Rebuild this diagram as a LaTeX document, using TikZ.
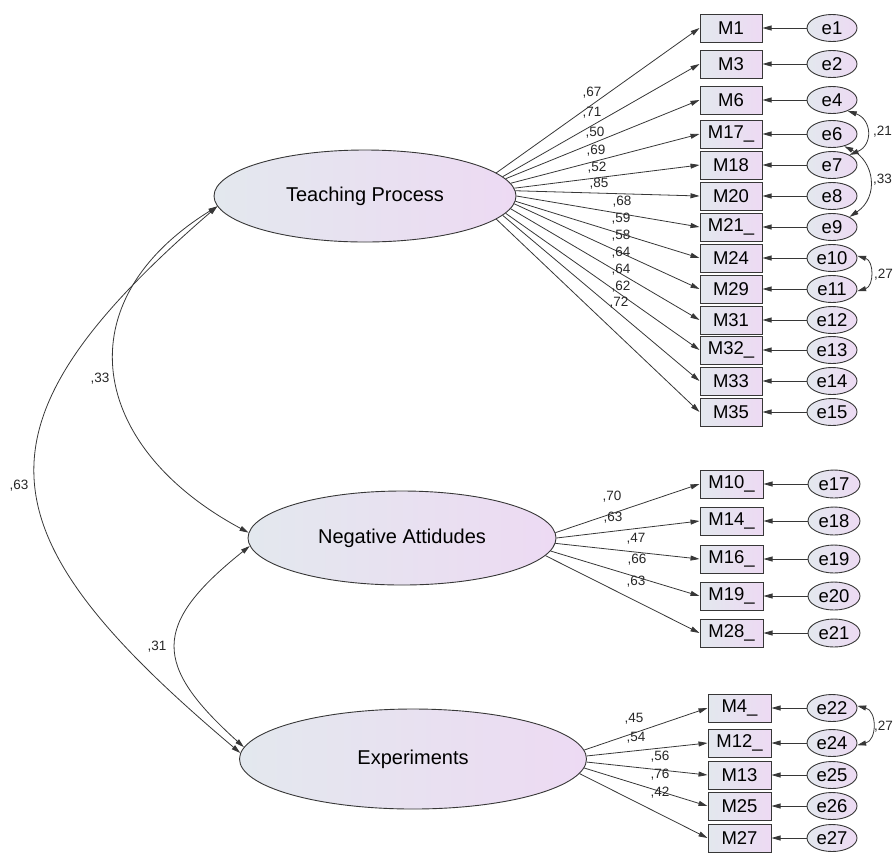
\documentclass[tikz,border=0pt]{standalone}
\usepackage{fontspec}
\setmainfont{Liberation Sans}
\usetikzlibrary{shapes.geometric,arrows.meta,calc}
\definecolor{lineC}{RGB}{55,55,55}
\definecolor{shadeL}{RGB}{227,232,238}
\definecolor{shadeR}{RGB}{237,218,243}
\tikzset{
 latent/.style={ellipse, draw=lineC, line width=0.9pt, left color=shadeL, right color=shadeR, inner sep=0pt, font=\fontsize{20}{23}\selectfont},
 obs/.style={rectangle, draw=lineC, line width=1pt, left color=shadeL, right color=shadeR, minimum width=62pt, minimum height=28pt, inner sep=0pt, font=\fontsize{18.5}{22}\selectfont},
 err/.style={ellipse, draw=lineC, line width=0.9pt, left color=shadeL, right color=shadeR, minimum width=50pt, minimum height=27pt, inner sep=0pt, font=\fontsize{18.5}{22}\selectfont},
 arr/.style={draw=lineC, line width=0.8pt, -{Triangle[length=9pt,width=5pt]}},
 cov/.style={draw=lineC, line width=0.8pt, {Triangle[length=9pt,width=5pt]}-{Triangle[length=9pt,width=5pt]}},
 lab/.style={inner sep=0pt, font=\fontsize{13.5}{16}\selectfont, text=black!85},
}
\begin{document}
\begin{tikzpicture}[x=1pt,y=-1pt]
\useasboundingbox (0,0) rectangle (893,852);
% latent variables
\node[latent, minimum width=302pt, minimum height=92pt] (TP) at (365,196) {Teaching Process};
\node[latent, minimum width=308pt, minimum height=94pt] (NA) at (402,538) {Negative Attidudes};
\node[latent, minimum width=347pt, minimum height=100pt] (EX) at (413,759) {Experiments};

% Teaching Process indicators
\foreach \m/\t/\y/\e/\a/\lx/\ly/\v in {
 M1/M1/28/e1/10/592/93/{,67},
 M3/M3/64/e2/8/592/113/{,71},
 M6/M6/100/e4/7/595/133/{,50},
 M17/M17\_/134/e6/5/596/151/{,69},
 M18/M18/165/e7/3/597/168/{,52},
 M20/M20/196/e8/2/599/184/{,85},
 M21/M21\_/227/e9/0/622/202/{,68},
 M24/M24/258/e10/-2/621/219/{,59},
 M29/M29/289/e11/-3/621/236/{,58},
 M31/M31/320/e12/-5/621/253/{,64},
 M32/M32\_/350/e13/-7/621/270/{,64},
 M33/M33/381/e14/-8/621/287/{,62},
 M35/M35/412/e15/-10/619/303/{,72}}{
 \node[obs] (\m) at (731,\y) {\t};
 \node[err] (\e) at (832,\y) {\e};
 \draw[arr] (\e) -- (\m);
 \draw[arr] (TP.\a) -- (\m.west);
 \node[lab] (L\m) at (\lx,\ly) {\v};
}

% Negative Attidudes indicators
\foreach \m/\t/\y/\e/\a/\lx/\ly/\v in {
 M10/M10\_/484/e17/2/612/497/{,70},
 M14/M14\_/521/e18/0/613/518/{,63},
 M16/M16\_/559/e19/-2/636/539/{,47},
 M19/M19\_/596/e20/-5/637/560/{,66},
 M28/M28\_/633/e21/-7/636/582/{,63}}{
 \node[obs, minimum width=63pt] (\m) at (731.5,\y) {\t};
 \node[err, minimum width=52pt, minimum height=28pt] (\e) at (834,\y) {\e};
 \draw[arr] (\e) -- (\m);
 \draw[arr] (NA.\a) -- (\m.west);
 \node[lab] (L\m) at (\lx,\ly) {\v};
}

% Experiments indicators
\foreach \m/\t/\y/\e/\a/\lx/\ly/\v in {
 M4/M4\_/708/e22/3/634/719/{,45},
 M12/M12\_/743/e24/1/636/738/{,54},
 M13/M13/775/e25/-1/660/757/{,56},
 M25/M25/806/e26/-3/660/775/{,76},
 M27/M27/838/e27/-5/660/793/{,42}}{
 \node[obs, minimum width=63pt] (\m) at (739.5,\y) {\t};
 \node[err] (\e) at (832,\y) {\e};
 \draw[arr] (\e) -- (\m);
 \draw[arr] (EX.\a) -- (\m.west);
 \node[lab] (L\m) at (\lx,\ly) {\v};
}

% latent covariances
\draw[cov] (TP.184) .. controls (63,302) and (89,447) .. (NA.178);
\draw[cov] (TP.184) .. controls (-38,427) and (-19,534) .. (EX.178);
\draw[cov] (NA.183) .. controls (151,625) and (153,665) .. (EX.176);
\node[lab] (c33) at (100,379) {,33};
\node[lab] (c63) at (19,486) {,63};
\node[lab] (c31) at (157,647) {,31};

% error covariances
\draw[cov] (e4.-35) .. controls +(24,8) and +(24,-10) .. (e7.30);
\draw[cov] (e6.-45) .. controls +(30,15) and +(30,-20) .. (e9.30);
\draw[cov] (e10.5) .. controls +(17,5) and +(17,-5) .. (e11.-5);
\draw[cov] (e22.5) .. controls +(20,5) and +(20,-5) .. (e24.-5);
\node[lab, anchor=west] (c21) at (873,132) {,21};
\node[lab, anchor=west] (c33b) at (873,180) {,33};
\node[lab, anchor=west] (c27a) at (874,275) {,27};
\node[lab, anchor=west] (c27b) at (874,727) {,27};
\end{tikzpicture}
\end{document}
